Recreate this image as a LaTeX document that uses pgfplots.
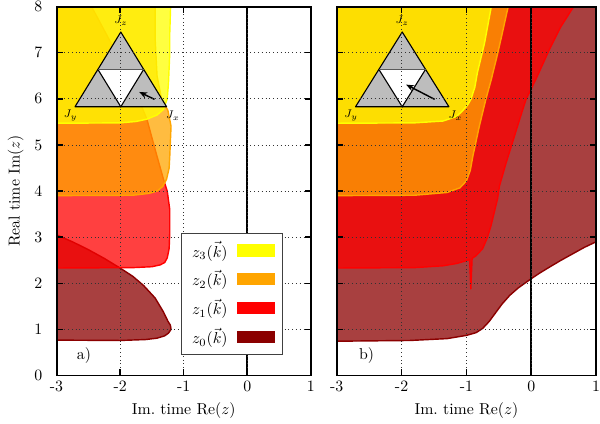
\documentclass[border=0pt]{standalone}
\usepackage{pgfplots}
\pgfplotsset{compat=1.18}
\usetikzlibrary{arrows.meta}
\definecolor{zzero}{RGB}{139,0,0}
\definecolor{zone}{RGB}{255,0,0}
\definecolor{ztwo}{RGB}{255,165,0}
\definecolor{zthree}{RGB}{255,255,0}
\pgfplotsset{
  panel/.style={
    scale only axis, height=233pt,
    xmin=-3, xmax=1, ymin=0, ymax=8,
    xtick={-3,-2,-1,0,1}, xticklabels={-3,-2,-1,0,1},
    ytick={0,1,2,3,4,5,6,7,8},
    grid=major,
    grid style={dotted, black!80, line width=0.5pt},
    axis on top,
    tick align=inside,
    major tick length=4pt,
    tick style={black, line width=0.9pt},
    axis line style={black, line width=1.2pt},
    xlabel={Im.\ time Re$(z)$},
    xticklabel style={inner xsep=0pt},
    yticklabel style={xshift=-5.5pt, inner ysep=1pt},
  },
  reg/.style={fill=#1, fill opacity=0.75, draw=#1, line width=0.9pt, line join=round, forget plot},
}
\newcommand{\inset}[4]{% arrow start x,y ; arrow end x,y
  \fill[black!26] (axis cs:-2.71,5.83) -- (axis cs:-1.27,5.83) -- (axis cs:-1.99,7.45) -- cycle;
  \fill[white] (axis cs:-2.35,6.64) -- (axis cs:-1.63,6.64) -- (axis cs:-1.99,5.83) -- cycle;
  \draw[black, line width=0.7pt, line join=round] (axis cs:-2.71,5.83) -- (axis cs:-1.27,5.83) -- (axis cs:-1.99,7.45) -- cycle;
  \draw[black, line width=0.7pt] (axis cs:-2.35,6.64) -- (axis cs:-1.99,5.83) -- (axis cs:-1.63,6.64);
  \draw[black!65, line width=1.1pt] (axis cs:-2.35,6.64) -- (axis cs:-1.63,6.64);
  \draw[-{Stealth[length=5pt,width=4pt]}, line width=0.9pt] (axis cs:#1,#2) -- (axis cs:#3,#4);
  \node[font=\scriptsize] at (axis cs:-1.99,7.69) {$J_z$};
  \node[font=\scriptsize] at (axis cs:-2.78,5.64) {$J_y$};
  \node[font=\scriptsize] at (axis cs:-1.17,5.64) {$J_x$};
}
\newcommand{\legrect}[1]{\addlegendimage{legend image code/.code={\path (0pt,0pt); \fill[#1] (4pt,-3.5pt) rectangle (27pt,3.5pt);}}}
\begin{document}
\begin{tikzpicture}
% ---------------- panel a ----------------
\begin{axis}[panel, width=160.7pt,
  ylabel={Real time Im$(z)$},
  legend style={at={(0.4875,0.386)}, anchor=north west, draw=black!75,
    legend plot pos=right, legend cell align=left, row sep=3pt,
    inner xsep=5pt, inner ysep=3pt, line width=0.6pt},
]
\addplot[reg=zzero] coordinates {
  (-3.3,0.77) (-2.0,0.76) (-1.6,0.78) (-1.42,0.81) (-1.3,0.86) (-1.24,0.92)
  (-1.2,1.0) (-1.21,1.09) (-1.25,1.18) (-1.32,1.38) (-1.45,1.68) (-1.63,1.95)
  (-1.8,2.15) (-2.0,2.33) (-2.25,2.54) (-2.5,2.73) (-2.75,2.9) (-3.0,3.05)
  (-3.3,3.22) } -- cycle;
\addplot[reg=zone] coordinates {
  (-3.3,2.33) (-1.8,2.34) (-1.5,2.36) (-1.37,2.4) (-1.3,2.45) (-1.26,2.55)
  (-1.23,2.75) (-1.22,3.1) (-1.22,3.6) (-1.26,4.0) (-1.32,4.26) (-1.45,4.9)
  (-1.58,5.56) (-1.8,6.3) (-2.1,7.1) (-2.45,8.0) (-2.55,8.3) (-3.3,8.3) } -- cycle;
\addplot[reg=ztwo] coordinates {
  (-3.3,3.9) (-1.8,3.91) (-1.55,3.95) (-1.42,4.0) (-1.33,4.1) (-1.27,4.26)
  (-1.23,4.5) (-1.22,4.76) (-1.2,5.41) (-1.25,5.75) (-1.35,6.0) (-1.42,6.5)
  (-1.45,7.3) (-1.45,8.3) (-3.3,8.3) } -- cycle;
\addplot[reg=zthree] coordinates {
  (-3.3,5.47) (-2.0,5.48) (-1.75,5.51) (-1.58,5.56) (-1.42,5.65) (-1.32,5.77)
  (-1.26,6.0) (-1.24,6.35) (-1.22,7.0) (-1.22,7.43) (-1.2,8.3) (-3.3,8.3) } -- cycle;
\addplot[black, line width=1.3pt, forget plot] coordinates {(0,0) (0,8)};
\inset{-1.46}{5.99}{-1.70}{6.15}
\node at (axis cs:-2.57,0.44) {a)};
\legrect{zthree}\addlegendentry{$z_3(\vec{k})$}
\legrect{ztwo}\addlegendentry{$z_2(\vec{k})$}
\legrect{zone}\addlegendentry{$z_1(\vec{k})$}
\legrect{zzero}\addlegendentry{$z_0(\vec{k})$}
\end{axis}
% ---------------- panel b ----------------
\begin{axis}[panel, width=163.8pt, at={(177pt,0pt)}, yticklabels={}]
\addplot[reg=zzero] coordinates {
  (-3.3,0.74) (-1.87,0.76) (-1.3,0.8) (-1.0,0.87) (-0.85,0.93) (-0.75,1.02)
  (-0.65,1.17) (-0.55,1.36) (-0.45,1.55) (-0.33,1.74) (-0.2,1.9) (-0.1,2.0)
  (0,2.1) (0.14,2.23) (0.28,2.35) (0.46,2.5) (0.64,2.64) (0.82,2.78) (1.0,2.9)
  (1.3,3.1) (1.3,8.3) (-3.3,8.3) } -- cycle;
\addplot[reg=zone] coordinates {
  (-3.3,2.33) (-1.8,2.34) (-1.36,2.38) (-1.15,2.43) (-1.0,2.49) (-0.95,2.52)
  (-0.932,1.88) (-0.912,2.54)
  (-0.85,2.6) (-0.75,2.75) (-0.68,2.98) (-0.62,3.25) (-0.52,3.83) (-0.49,4.11)
  (-0.39,4.6) (-0.29,5.05) (-0.18,5.55) (-0.08,5.99) (0.07,6.42) (0.28,7.07)
  (0.45,7.55) (0.64,7.97) (0.75,8.3) (-3.3,8.3) } -- cycle;
\addplot[reg=ztwo] coordinates {
  (-3.3,3.9) (-1.8,3.91) (-1.3,3.97) (-1.1,4.07) (-1.0,4.22) (-0.94,4.45)
  (-0.9,4.76) (-0.8,5.41) (-0.7,5.99) (-0.62,6.4) (-0.54,6.85) (-0.45,7.4)
  (-0.36,7.97) (-0.31,8.3) (-3.3,8.3) } -- cycle;
\addplot[reg=zthree] coordinates {
  (-3.3,5.47) (-1.8,5.48) (-1.36,5.52) (-1.15,5.62) (-1.06,5.74) (-0.98,5.87)
  (-0.93,5.99) (-0.87,6.25) (-0.83,6.57) (-0.72,7.21) (-0.62,7.97) (-0.58,8.3)
  (-3.3,8.3) } -- cycle;
\addplot[black, line width=1.3pt, forget plot] coordinates {(0,0) (0,8)};
\inset{-1.49}{5.99}{-1.93}{6.31}
\node at (axis cs:-2.54,0.44) {b)};
\end{axis}
\path ([xshift=-1.5pt]current bounding box.west);
\end{tikzpicture}
\end{document}
